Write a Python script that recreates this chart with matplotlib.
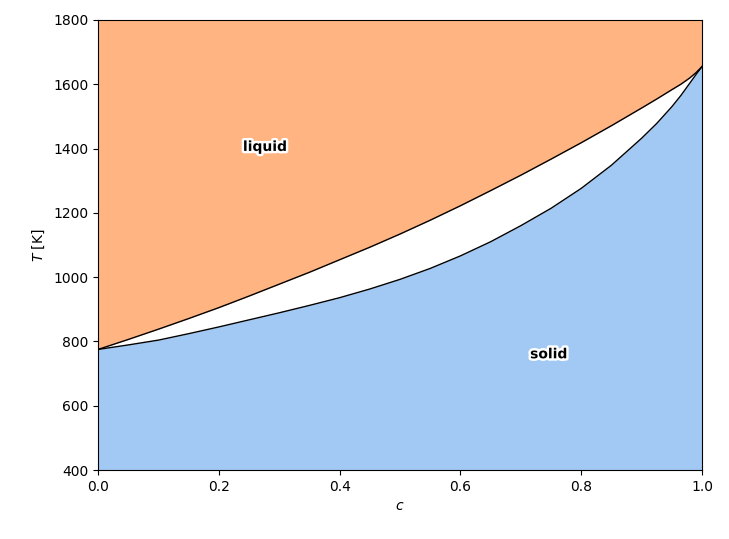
import numpy as np
import matplotlib.pyplot as plt
import matplotlib.patheffects as pe

# composition grid and read-off temperatures (K)
c = [0.0, 0.05, 0.1, 0.15, 0.2, 0.25, 0.3, 0.35, 0.4, 0.45, 0.5,
     0.55, 0.6, 0.65, 0.7, 0.75, 0.8, 0.85, 0.9, 0.925, 0.95, 0.965,
     0.98, 0.99, 1.0]
T_liquidus = [775, 806, 838, 871, 905, 941, 978, 1015, 1054, 1093, 1134,
              1177, 1222, 1269, 1317, 1367, 1418, 1471, 1526, 1554, 1583, 1600,
              1620, 1636, 1655]
T_solidus = [775, 789, 804, 824, 845, 867, 889, 912, 936, 963, 993,
             1027, 1066, 1110, 1160, 1214, 1276, 1348, 1432, 1478, 1530, 1565,
             1604, 1630, 1655]

T_min, T_max = 400, 1800

fig = plt.figure(figsize=(7.29, 5.39), dpi=100)
ax = fig.add_axes([0.1344, 0.128, 0.8286, 0.835])

ax.fill_between(c, T_liquidus, T_max, color='#ffb482', lw=0)
ax.fill_between(c, T_min, T_solidus, color='#a1c9f4', lw=0)
ax.plot(c, T_liquidus, color='black', lw=1)
ax.plot(c, T_solidus, color='black', lw=1)

stroke = [pe.withStroke(linewidth=3.5, foreground='white')]
ax.text(0.276, 1405, 'liquid', ha='center', va='center', fontsize=10,
        fontweight='bold', path_effects=stroke)
ax.text(0.746, 760, 'solid', ha='center', va='center', fontsize=10,
        fontweight='bold', path_effects=stroke)

ax.set_xlim(0, 1)
ax.set_ylim(T_min, T_max)
ax.set_xticks(np.arange(0, 1.01, 0.2))
ax.set_yticks(np.arange(400, 1801, 200))
ax.set_xlabel('$c$')
ax.set_ylabel('$T$ [K]')

fig.savefig('out.png', dpi=100)
